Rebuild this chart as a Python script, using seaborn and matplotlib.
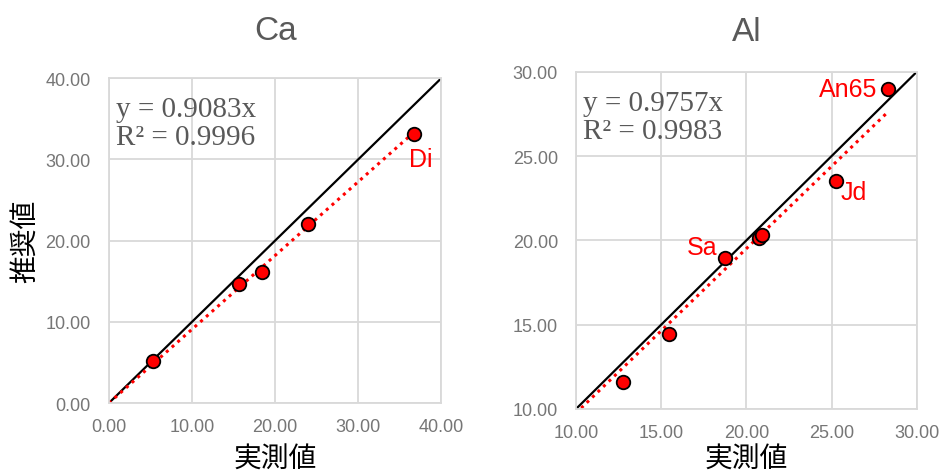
import numpy as np
import pandas as pd
import matplotlib
matplotlib.use("Agg")
import matplotlib.pyplot as plt
import seaborn as sns

# データ (Ca)
ca_jissoku = [5.3, 15.7, 18.45, 23.95, 36.7]
ca_suisho = [5.15, 14.6, 16.15, 22.1, 33.1]
ca_slope, ca_r2 = 0.9083, 0.9996

# データ (Al)
al_jissoku = [12.74, 15.44, 18.77, 20.72, 20.92, 25.26, 28.3]
al_suisho = [11.58, 14.45, 18.93, 20.12, 20.32, 23.52, 28.96]
al_slope, al_r2 = 0.9757, 0.9983

sns.set_style("white")
plt.rcParams['font.family'] = ['Noto Sans CJK JP', 'DejaVu Sans']

GRAY = "#595959"
TICK = "#767676"
GRID = "#d9d9d9"


def ciz(ax, x, y, slope, r2, lim, step, title, xpad, tpad):
    df = pd.DataFrame({"jissoku": x, "suisho": y})
    # 1:1 line
    ax.plot(lim, lim, color="black", lw=1.6, zorder=2)
    # trendline through origin
    xs = np.array([0, max(x)])
    ax.plot(xs, slope * xs, color="red", lw=2.2, ls=(0, (1, 1.5)), zorder=2)
    sns.scatterplot(data=df, x="jissoku", y="suisho", ax=ax, color="red",
                    edgecolor="black", linewidth=1.3, s=95, zorder=3, clip_on=False)
    ax.set_xlim(lim)
    ax.set_ylim(lim)
    ticks = np.arange(lim[0], lim[1] + 0.01, step)
    ax.set_xticks(ticks)
    ax.set_yticks(ticks)
    ax.set_xticklabels([f"{t:.2f}" for t in ticks])
    ax.set_yticklabels([f"{t:.2f}" for t in ticks])
    ax.tick_params(colors=TICK, labelsize=13, length=0)
    ax.tick_params(axis="x", pad=11)
    ax.tick_params(axis="y", pad=13)
    for lab in ax.get_xticklabels() + ax.get_yticklabels():
        lab.set_family(['Liberation Sans'])
    ax.grid(True, color=GRID, lw=1.3)
    for sp in ax.spines.values():
        sp.set_color(GRID)
        sp.set_linewidth(1.3)
    ax.set_xlabel("実測値", fontsize=20, color="black", labelpad=xpad)
    ax.set_ylabel("")
    ax.set_title(title, fontsize=24, color=GRAY, family=['Liberation Sans'], pad=tpad)
    ax.text(0.02, 0.945, f"y = {slope}x\nR² = {r2}", transform=ax.transAxes,
            ha="left", va="top", fontsize=21, color=GRAY,
            family=['Liberation Serif'], linespacing=1.1)


fig = plt.figure(figsize=(9.39, 4.77), dpi=100)
ax1 = fig.add_axes([0.116, 0.153, 0.354, 0.681])
ax2 = fig.add_axes([0.6134, 0.1405, 0.363, 0.707])

ciz(ax1, ca_jissoku, ca_suisho, ca_slope, ca_r2, [0, 40], 10, "Ca", 6, 28)
ciz(ax2, al_jissoku, al_suisho, al_slope, al_r2, [10, 30], 5, "Al", 2, 23)

ax1.set_ylabel("推奨値", fontsize=20, color="black", labelpad=4)

lab = dict(color="red", fontsize=18, family=['Liberation Sans'])
ax1.text(37.5, 30.1, "Di", ha="center", va="center", **lab)
ax2.text(27.7, 28.95, "An65", ha="right", va="center", **lab)
ax2.text(26.3, 22.85, "Jd", ha="center", va="center", **lab)
ax2.text(17.4, 19.6, "Sa", ha="center", va="center", **lab)

plt.savefig("out.png", dpi=100)
